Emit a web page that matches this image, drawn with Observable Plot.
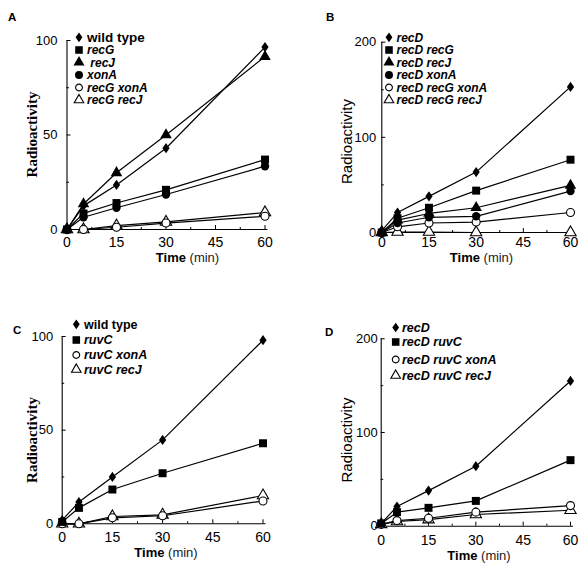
<!DOCTYPE html>
<html><head><meta charset="utf-8">
<script src="https://cdn.jsdelivr.net/npm/d3@7"></script>
<script src="https://cdn.jsdelivr.net/npm/@observablehq/plot@0.6"></script>
<style>
body{margin:0;background:#fff}
#fig{position:relative;width:588px;height:567px;background:#fff}
#fig > svg{position:absolute}
</style></head><body><div id="fig"></div>
<script>
// ---- shared ----
const times = [0, 5, 15, 30, 60];
const xTicks = [0, 15, 30, 45, 60];
const xMinorTicks = [7.5, 22.5, 37.5, 52.5];
const xLabelBold = "Time";
const xLabelRest = " (min)";
const yLabel = "Radioactivity";

// ---- Panel A ----
const seriesA = ["wild type", "recG", "\u00a0recJ", "xonA", "recG xonA", "recG recJ"];
const symbolsA = ["diamond", "square", "triangle", "circle", "circleOpen", "triangleOpen"];
const valuesA = [
  [0, 12.5, 23.6, 43, 96.5],
  [0, 8.5, 14, 21, 37],
  [0, 13.5, 30, 50, 91.5],
  [0, 6.5, 11.5, 18.5, 33.5],
  [0, 0, 1.2, 3.4, 7],
  [0, 0, 2, 4, 9]
];
const yTicksA = [0, 50, 100];
const yMinorA = [25, 75];

// ---- Panel B ----
const seriesB = ["recD", "recD recG", "recD recJ", "recD xonA", "recD recG xonA", "recD recG recJ"];
const symbolsB = ["diamond", "square", "triangle", "circle", "circleOpen", "triangleOpen"];
const valuesB = [
  [2, 21, 38, 63.5, 153],
  [0, 15, 26, 44, 76.5],
  [0, 13, 20, 26, 49.5],
  [0, 10, 16, 17, 43.5],
  [0, 6, 10, 11, 21],
  [0, 0.5, 0.5, 0, 0]
];
const yTicksB = [0, 100, 200];
const yMinorB = [50, 150];

// ---- Panel C ----
const seriesC = ["wild type", "ruvC", "ruvC xonA", "ruvC recJ"];
const symbolsC = ["diamond", "square", "circleOpen", "triangleOpen"];
const valuesC = [
  [2, 11.6, 25, 44.8, 98],
  [1, 8.5, 18.3, 27, 43],
  [0, 0, 3.2, 4.3, 12.2],
  [0, 0, 3.9, 4.8, 15.1]
];
const yTicksC = [0, 50, 100];
const yMinorC = [25, 75];

// ---- Panel D ----
const seriesD = ["recD", "recD ruvC", "recD ruvC xonA", "recD ruvC recJ"];
const symbolsD = ["diamond", "square", "circleOpen", "triangleOpen"];
const valuesD = [
  [3, 21, 38, 64, 155],
  [3, 15, 19.6, 27, 70.5],
  [2, 6, 8.5, 15, 22],
  [2, 5, 7, 12.5, 17]
];
const yTicksD = [0, 100, 200];
const yMinorD = [50, 150];

// ---- symbols ----
const diamondTall = {
  draw(context, size) {
    const r = Math.sqrt(size / Math.PI);
    const h = r * 1.25, w = r * 0.88;
    context.moveTo(0, -h); context.lineTo(w, 0); context.lineTo(0, h); context.lineTo(-w, 0); context.closePath();
  }
};
const symbolDefs = {
  diamond: {type: diamondTall, r: 4.1, fill: "black", stroke: "none"},
  square: {type: d3.symbolSquare, r: 4.5, fill: "black", stroke: "none"},
  triangle: {type: d3.symbolTriangle, r: 4.3, fill: "black", stroke: "none"},
  circle: {type: d3.symbolCircle, r: 4.2, fill: "black", stroke: "none"},
  circleOpen: {type: d3.symbolCircle, r: 4, fill: "white", stroke: "black"},
  triangleOpen: {type: d3.symbolTriangle, r: 4.2, fill: "white", stroke: "black"}
};

const SANS = "'Liberation Sans', Arial, Helvetica, sans-serif";
const SERIF = "'Liberation Serif', 'Times New Roman', serif";

function panel(cfg) {
  const rows = cfg.series.flatMap((s, i) => times.map((t, j) => ({series: s, t, v: cfg.values[i][j]})));
  const dots = cfg.series.map((s, i) => {
    const sd = symbolDefs[cfg.symbols[i]];
    return Plot.dot(rows.filter(d => d.series === s), {
      x: "t", y: "v", symbol: sd.type, r: sd.r, fill: sd.fill, stroke: sd.stroke, strokeWidth: 1.1
    });
  }).reverse();
  const svg = Plot.plot({
    width: 294, height: cfg.height,
    marginLeft: cfg.m[0], marginRight: cfg.m[1], marginTop: cfg.m[2], marginBottom: cfg.m[3],
    style: {fontFamily: SANS, color: "black", background: "white"},
    x: {domain: [0, 60], axis: null},
    y: {domain: [0, cfg.ymax], axis: null},
    marks: [
      Plot.axisX(xTicks, {tickSize: -4, tickPadding: cfg.xPad, fontSize: 14, label: null, tickFormat: d => String(d), fill: "black"}),
      Plot.axisX(xMinorTicks, {tickSize: -2, text: null, label: null}),
      Plot.axisY(cfg.yTicks, {tickSize: -4, tickPadding: cfg.yPad, fontSize: 13, label: null, tickFormat: d => String(d), fill: "black"}),
      Plot.axisY(cfg.yMinor, {tickSize: -2.5, text: null, label: null}),
      Plot.ruleX([0], {strokeWidth: 1.1}),
      Plot.ruleY([0], {strokeWidth: 1.1, insetRight: -3}),
      Plot.line(rows, {x: "t", y: "v", z: "series", stroke: "black", strokeWidth: 1.2}),
      ...dots
    ]
  });
  svg.style.left = cfg.left + "px";
  svg.style.top = cfg.top + "px";
  const s = d3.select(svg);
  // panel letter
  s.append("text").attr("x", cfg.letterPos[0]).attr("y", cfg.letterPos[1])
    .attr("text-anchor", "start")
    .attr("font-family", SANS).attr("font-weight", "bold").attr("font-size", 11.5).attr("fill", "black")
    .text(cfg.letter);
  // y label
  s.append("text").attr("transform", `translate(${cfg.yLabelPos[0]},${cfg.yLabelPos[1]}) rotate(-90)`)
    .attr("text-anchor", "middle")
    .attr("font-family", cfg.serifLabel ? SERIF : SANS)
    .attr("font-weight", cfg.serifLabel ? "bold" : "normal")
    .attr("font-size", 15).attr("fill", "black")
    .text(yLabel);
  // x label
  const xl = s.append("text").attr("x", cfg.xLabelPos[0]).attr("y", cfg.xLabelPos[1])
    .attr("text-anchor", "middle").attr("font-family", SANS).attr("font-size", 13).attr("fill", "black");
  xl.append("tspan").attr("font-weight", "bold").text(xLabelBold);
  xl.append("tspan").attr("font-weight", "normal").attr("fill", "#222").text(xLabelRest);
  // legend
  const lg = s.append("g");
  cfg.series.forEach((name, i) => {
    const sd = symbolDefs[cfg.symbols[i]];
    const y = cfg.legendY[i];
    const open = sd.fill === "white";
    const rr = open ? sd.r * 0.85 : sd.r * 0.95;
    lg.append("path")
      .attr("d", d3.symbol(sd.type, Math.PI * rr * rr)())
      .attr("transform", `translate(${cfg.legendX[0]},${y})`)
      .attr("fill", sd.fill).attr("stroke", sd.stroke).attr("stroke-width", 1.1);
    const wt = name === "wild type";
    lg.append("text").attr("x", cfg.legendX[1]).attr("y", y + 4.2)
      .attr("text-anchor", "start")
      .attr("font-family", SANS).attr("font-weight", "bold")
      .attr("font-style", wt ? "normal" : "italic")
      .attr("font-size", wt ? cfg.wtSize : cfg.legendSize)
      .attr("fill", "black")
      .text(name);
  });
  document.getElementById("fig").appendChild(svg);
}

panel({letter: "A", left: 0, top: 0, height: 280, m: [66.5, 29.5, 40, 51], ymax: 100,
  series: seriesA, symbols: symbolsA, values: valuesA, yTicks: yTicksA, yMinor: yMinorA,
  xPad: 12, yPad: 13.5, letterPos: [8, 21], yLabelPos: [36.5, 134.5], serifLabel: true,
  xLabelPos: [187.5, 262], legendX: [79, 87], legendY: [37.3, 50, 62.3, 75, 87.5, 100], wtSize: 13.5, legendSize: 12});
panel({letter: "B", left: 294, top: 0, height: 280, m: [87.3, 18, 41.7, 48], ymax: 200,
  series: seriesB, symbols: symbolsB, values: valuesB, yTicks: yTicksB, yMinor: yMinorB,
  xPad: 9, yPad: 9.5, letterPos: [32, 21], yLabelPos: [58, 141.5], serifLabel: false,
  xLabelPos: [187.5, 262], legendX: [95, 102.5], legendY: [37.3, 50, 62.3, 75, 87.5, 100], wtSize: 12, legendSize: 12});
panel({letter: "C", left: 0, top: 280, height: 287, m: [61.7, 31.5, 56, 43.7], ymax: 100,
  series: seriesC, symbols: symbolsC, values: valuesC, yTicks: yTicksC, yMinor: yMinorC,
  xPad: 12, yPad: 13, letterPos: [13, 53.5], yLabelPos: [36.5, 160], serifLabel: true,
  xLabelPos: [166, 277], legendX: [76.3, 84], legendY: [44.3, 60, 75, 89.5], wtSize: 12.5, legendSize: 12.5});
panel({letter: "D", left: 294, top: 280, height: 287, m: [86.7, 18, 58.3, 41.3], ymax: 200,
  series: seriesD, symbols: symbolsD, values: valuesD, yTicks: yTicksD, yMinor: yMinorD,
  xPad: 13, yPad: 7.5, letterPos: [31, 56], yLabelPos: [58, 160], serifLabel: false,
  xLabelPos: [185, 280], legendX: [101.7, 108], legendY: [47.5, 62, 79.5, 95.5], wtSize: 12.5, legendSize: 12.5});
</script>
</body></html>
